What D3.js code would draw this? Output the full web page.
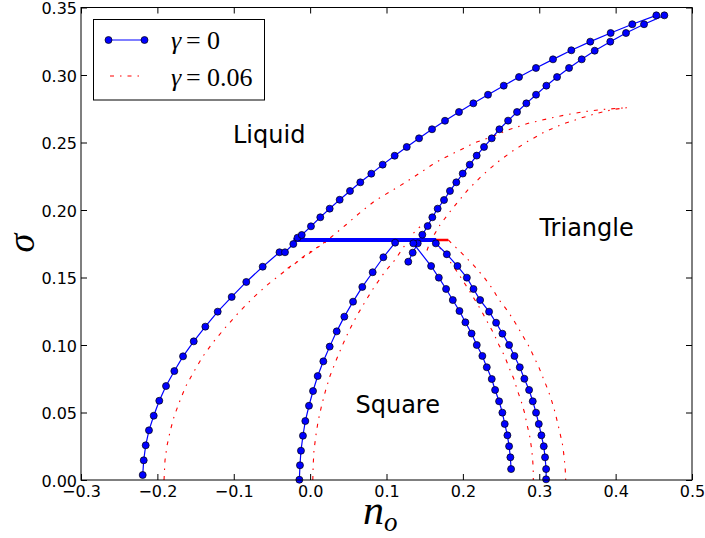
<!DOCTYPE html>
<html>
<head>
<meta charset="utf-8">
<script src="https://cdn.jsdelivr.net/npm/d3@7"></script>
<style>
  body { margin: 0; background: #fff; }
  svg { display: block; }
</style>
</head>
<body>
<div id="chart"></div>
<script>
// tick values
var nTicks = [-0.3, -0.2, -0.1, 0.0, 0.1, 0.2, 0.3, 0.4, 0.5];
var sigmaTicks = [0, 0.05, 0.10, 0.15, 0.20, 0.25, 0.30, 0.35];

// gamma = 0 curves, [n_o, sigma]
var g0_liquid = [[-0.2192,0.0037],[-0.2179,0.0146],[-0.2153,0.0257],[-0.2110,0.0368],[-0.2048,0.0476],
  [-0.1975,0.0587],[-0.1887,0.0696],[-0.1778,0.0807],[-0.1664,0.0916],[-0.1524,0.1027],[-0.1372,0.1136],
  [-0.1210,0.1247],[-0.1027,0.1356],[-0.0836,0.1467],[-0.0621,0.1580],[-0.0401,0.1687],[-0.0329,0.1687],
  [-0.0220,0.1748],[-0.0165,0.1795],[-0.0110,0.1815],[0.0011,0.1879],[0.0133,0.1946],[0.0256,0.2010],
  [0.0387,0.2076],[0.0522,0.2141],[0.0657,0.2205],[0.0801,0.2269],[0.0950,0.2336],[0.1107,0.2402],
  [0.1265,0.2467],[0.1426,0.2531],[0.1596,0.2598],[0.1766,0.2661],[0.1949,0.2726],[0.2137,0.2790],
  [0.2329,0.2854],[0.2535,0.2921],[0.2735,0.2985],[0.2957,0.3052],[0.3180,0.3116],[0.3420,0.3183],
  [0.3668,0.3247],[0.3935,0.3311],[0.4218,0.3376],[0.4533,0.3442]];
var g0_squareLeft = [[-0.0141,0.0002],[-0.0133,0.0109],[-0.0120,0.0217],[-0.0094,0.0328],[-0.0063,0.0437],
  [-0.0015,0.0550],[0.0038,0.0659],[0.0099,0.0770],[0.0173,0.0879],[0.0256,0.0988],[0.0348,0.1101],
  [0.0448,0.1210],[0.0562,0.1321],[0.0683,0.1430],[0.0819,0.1539],[0.0959,0.1650],[0.1113,0.1758]];
var g0_triangleLeft = [[0.1285,0.1617],[0.1343,0.1684],[0.1409,0.1753],[0.1469,0.1817],[0.1539,0.1881],
  [0.1600,0.1946],[0.1670,0.2010],[0.1753,0.2074],[0.1831,0.2141],[0.1914,0.2205],[0.1998,0.2270],
  [0.2090,0.2336],[0.2181,0.2403],[0.2277,0.2467],[0.2378,0.2531],[0.2478,0.2598],[0.2592,0.2662],
  [0.2709,0.2726],[0.2831,0.2790],[0.2958,0.2854],[0.3093,0.2921],[0.3233,0.2985],[0.3390,0.3052],
  [0.3556,0.3116],[0.3726,0.3180],[0.3930,0.3247],[0.4136,0.3311],[0.4372,0.3376],[0.4638,0.3442]];
var g0_squareRightIn = [[0.1351,0.1753],[0.1584,0.1585],[0.1685,0.1499],[0.1780,0.1415],[0.1868,0.1333],
  [0.1955,0.1252],[0.2033,0.1168],[0.2114,0.1085],[0.2182,0.1000],[0.2255,0.0919],[0.2313,0.0835],
  [0.2378,0.0748],[0.2422,0.0667],[0.2474,0.0583],[0.2517,0.0499],[0.2548,0.0415],[0.2583,0.0331],
  [0.2605,0.0250],[0.2622,0.0168],[0.2631,0.0081]];
var g0_squareRightOut = [[0.1646,0.1753],[0.1790,0.1672],[0.1929,0.1585],[0.2052,0.1499],[0.2139,0.1415],
  [0.2226,0.1333],[0.2343,0.1247],[0.2435,0.1165],[0.2518,0.1084],[0.2605,0.1000],[0.2675,0.0919],
  [0.2745,0.0835],[0.2805,0.0750],[0.2867,0.0667],[0.2915,0.0583],[0.2958,0.0499],[0.2994,0.0415],
  [0.3028,0.0331],[0.3059,0.0250],[0.3076,0.0168],[0.3090,0.0081],[0.3090,0.0005]];
var g0_triple = [[-0.022,0.1778],[0.165,0.1778]];

// gamma = 0.06 curves
var g6_liquidLow = [[-0.1913,0.0],[-0.1900,0.0146],[-0.1873,0.0257],[-0.1830,0.0368],[-0.1778,0.0476],
  [-0.1705,0.0587],[-0.1627,0.0696],[-0.1518,0.0807],[-0.1404,0.0916],[-0.1260,0.1027],[-0.1100,0.1136],
  [-0.0925,0.1247],[-0.0735,0.1356],[-0.0540,0.1455],[-0.0330,0.1548],[-0.0110,0.1640],[0.0080,0.1716],
  [0.0230,0.1778]];
var g6_liquidHigh = [[-0.0294,0.1568],[-0.0198,0.1605],[-0.0089,0.1654],[0.0021,0.1699],[0.0173,0.1748],
  [0.0273,0.1798],[0.0466,0.1889],[0.0653,0.1980],[0.0850,0.2069],[0.1050,0.2137],[0.1250,0.2205],
  [0.1430,0.2272],[0.1592,0.2333],[0.1700,0.2370],[0.1919,0.2432],[0.2159,0.2499],[0.2377,0.2543],
  [0.2617,0.2598],[0.2857,0.2642],[0.3098,0.2674],[0.3337,0.2704],[0.3577,0.2728],[0.3839,0.2745],
  [0.4145,0.2758]];
var g6_squareLeft = [[0.0035,0.0],[0.0040,0.0109],[0.0050,0.0217],[0.0075,0.0328],[0.0105,0.0437],
  [0.0150,0.0550],[0.0200,0.0659],[0.0260,0.0770],[0.0335,0.0879],[0.0415,0.0988],[0.0505,0.1101],
  [0.0605,0.1210],[0.0720,0.1321],[0.0840,0.1430],[0.0975,0.1539],[0.1110,0.1630],[0.1243,0.1741],
  [0.1309,0.1778],[0.1330,0.1815],[0.1439,0.1876]];
var g6_triangleLeft = [[0.1530,0.1700],[0.1580,0.1778],[0.1635,0.1827],[0.1700,0.1889],[0.1831,0.1987],
  [0.1919,0.2049],[0.2071,0.2153],[0.2246,0.2252],[0.2443,0.2350],[0.2639,0.2432],[0.2857,0.2511],
  [0.3075,0.2580],[0.3294,0.2634],[0.3534,0.2679],[0.3752,0.2716],[0.3970,0.2745],[0.4145,0.2758]];
var g6_squareRightIn = [[0.1620,0.1778],[0.1874,0.1585],[0.1975,0.1499],[0.2070,0.1415],[0.2158,0.1333],
  [0.2245,0.1252],[0.2323,0.1168],[0.2404,0.1085],[0.2472,0.1000],[0.2545,0.0919],[0.2603,0.0835],
  [0.2668,0.0748],[0.2712,0.0667],[0.2764,0.0583],[0.2807,0.0499],[0.2838,0.0415],[0.2873,0.0331],
  [0.2895,0.0250],[0.2912,0.0168],[0.2921,0.0081],[0.2922,0.0]];
var g6_squareRightOut = [[0.1809,0.1778],[0.2000,0.1672],[0.2150,0.1585],[0.2280,0.1499],[0.2390,0.1415],
  [0.2476,0.1333],[0.2593,0.1247],[0.2685,0.1165],[0.2768,0.1084],[0.2855,0.1000],[0.2925,0.0919],
  [0.2995,0.0835],[0.3055,0.0750],[0.3115,0.0667],[0.3165,0.0583],[0.3208,0.0499],[0.3244,0.0415],
  [0.3278,0.0331],[0.3309,0.0250],[0.3326,0.0168],[0.3340,0.0081],[0.3346,0.0]];
var g6_triple = [[0.0230,0.1778],[0.1809,0.1778]];

var regionLabels = [["Liquid", -0.101, 0.250], ["Triangle", 0.3003, 0.1811], ["Square", 0.0594, 0.0500]];

var svgWidth = 705, svgHeight = 538;
var margin = {top: 7.5, right: 13, bottom: 58, left: 81};
var width = svgWidth - margin.left - margin.right;
var height = svgHeight - margin.top - margin.bottom;

var svg = d3.select("#chart").append("svg")
    .attr("width", svgWidth)
    .attr("height", svgHeight);
var g = svg.append("g")
    .attr("transform", `translate(${margin.left},${margin.top})`);

var x = d3.scaleLinear().domain([-0.3, 0.5]).range([0, width]);
var y = d3.scaleLinear().domain([0, 0.35]).range([height, 0]);

var line = d3.line().x(d => x(d[0])).y(d => y(d[1]));

var BLUE = "#0000ff", RED = "#ff0000";
var dashdot = "4,6,1.5,6";

// gamma = 0.06 (drawn underneath)
g.append("path").datum(g6_triple)
    .attr("d", line).attr("fill", "none")
    .attr("stroke", RED).attr("stroke-width", 2.5);
[g6_liquidLow, g6_liquidHigh, g6_squareLeft, g6_triangleLeft, g6_squareRightIn, g6_squareRightOut]
  .forEach(function(c) {
    g.append("path").datum(c)
        .attr("d", line).attr("fill", "none")
        .attr("stroke", RED).attr("stroke-width", 1.1)
        .attr("stroke-dasharray", dashdot);
  });

// gamma = 0
var blueCurves = [g0_liquid, g0_squareLeft, g0_triangleLeft, g0_squareRightIn, g0_squareRightOut];
blueCurves.forEach(function(c) {
    g.append("path").datum(c)
        .attr("d", line).attr("fill", "none")
        .attr("stroke", BLUE).attr("stroke-width", 1.2);
});
g.append("path").datum(g0_triple)
    .attr("d", line).attr("fill", "none")
    .attr("stroke", BLUE).attr("stroke-width", 4);
blueCurves.forEach(function(c) {
    g.append("g").selectAll("circle").data(c).enter().append("circle")
        .attr("cx", d => x(d[0])).attr("cy", d => y(d[1]))
        .attr("r", 3.5)
        .attr("fill", BLUE).attr("stroke", "#000").attr("stroke-width", 0.7);
});

// axes, ticks pointing inward on all sides
var fmtX = d3.format(".1f"), fmtY = d3.format(".2f");
g.append("g").attr("transform", `translate(0,${height})`)
    .call(d3.axisBottom(x).tickValues(nTicks).tickFormat(fmtX).tickSizeInner(-6).tickSizeOuter(0).tickPadding(6));
g.append("g")
    .call(d3.axisTop(x).tickValues(nTicks).tickFormat("").tickSizeInner(-6).tickSizeOuter(0));
var yAxis = g.append("g")
    .call(d3.axisLeft(y).tickValues(sigmaTicks).tickFormat(fmtY).tickSizeInner(-6).tickSizeOuter(0).tickPadding(4));
g.append("g").attr("transform", `translate(${width},0)`)
    .call(d3.axisRight(y).tickValues(sigmaTicks).tickFormat("").tickSizeInner(-6).tickSizeOuter(0));
g.selectAll(".domain").remove();
g.selectAll(".tick line").attr("stroke", "#000");
g.selectAll(".tick text")
    .attr("font-family", "DejaVu Sans").attr("font-size", 16).attr("fill", "#000");
yAxis.selectAll(".tick text").attr("dy", "0.4em");
g.append("rect").attr("width", width).attr("height", height)
    .attr("fill", "none").attr("stroke", "#000").attr("stroke-width", 1);

// region labels
g.selectAll(".region").data(regionLabels).enter().append("text")
    .attr("x", d => x(d[1])).attr("y", d => y(d[2]))
    .attr("font-family", "DejaVu Sans").attr("font-size", 24)
    .text(d => d[0]);

// axis titles
svg.append("text")
    .attr("transform", "translate(34,243) rotate(-90)")
    .attr("text-anchor", "middle")
    .attr("font-family", "Liberation Serif").attr("font-style", "italic").attr("font-size", 38)
    .text("σ");
var xt = svg.append("text").attr("x", 363).attr("y", 524)
    .attr("font-family", "Liberation Serif").attr("font-style", "italic").attr("font-size", 42);
xt.append("tspan").text("n");
xt.append("tspan").attr("font-size", 27).attr("dy", 7).text("o");

// legend
var leg = svg.append("g");
leg.append("rect").attr("x", 93.5).attr("y", 19.5).attr("width", 171).attr("height", 80.5)
    .attr("fill", "#fff").attr("stroke", "#000").attr("stroke-width", 1);
leg.append("line").attr("x1", 108.5).attr("x2", 144.5).attr("y1", 40).attr("y2", 40)
    .attr("stroke", BLUE).attr("stroke-width", 1.2);
[108.5, 144.5].forEach(function(cx) {
    leg.append("circle").attr("cx", cx).attr("cy", 40).attr("r", 3.5)
        .attr("fill", BLUE).attr("stroke", "#000").attr("stroke-width", 0.7);
});
leg.append("line").attr("x1", 110).attr("x2", 144).attr("y1", 76).attr("y2", 76)
    .attr("stroke", RED).attr("stroke-width", 1.1).attr("stroke-dasharray", dashdot);
var legendLabels = [["0", 49], ["0.06", 86]];
legendLabels.forEach(function(l) {
    var t = leg.append("text").attr("y", l[1])
        .attr("font-family", "Liberation Serif").attr("font-size", 26);
    t.append("tspan").attr("x", 171).attr("font-style", "italic").text("γ");
    t.append("tspan").attr("x", 186).text("=");
    t.append("tspan").attr("x", 207).text(l[0]);
});
</script>
</body>
</html>
